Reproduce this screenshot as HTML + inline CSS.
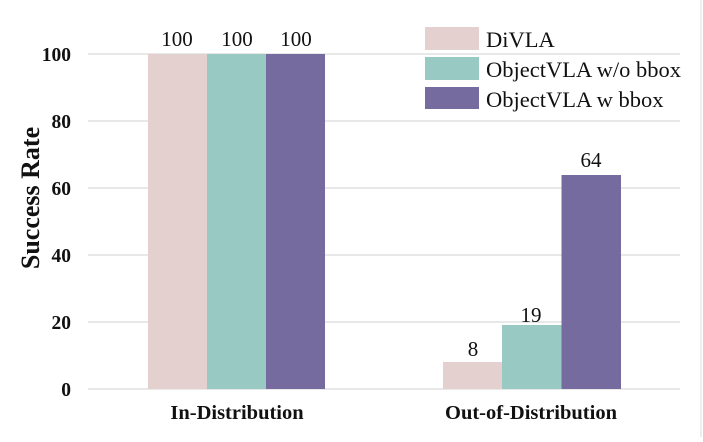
<!DOCTYPE html>
<html><head><meta charset="utf-8"><style>
body{margin:0;background:#fff;width:703px;height:437px;overflow:hidden}
</style></head><body>
<svg width="703" height="437" xmlns="http://www.w3.org/2000/svg" font-family="Liberation Serif, serif">
<rect width="703" height="437" fill="#fff"/>
<line x1="701" y1="0" x2="701" y2="437" stroke="#ddd" stroke-width="1"/>
<g stroke="#d9d9d9" stroke-width="1.3">
<line x1="88" x2="680" y1="54" y2="54"/>
<line x1="88" x2="680" y1="121" y2="121"/>
<line x1="88" x2="680" y1="188" y2="188"/>
<line x1="88" x2="680" y1="255" y2="255"/>
<line x1="88" x2="680" y1="322" y2="322"/>
<line x1="88" x2="680" y1="389" y2="389"/>
</g>
<g font-weight="bold" font-size="19.5" text-anchor="end" fill="#111">
<text x="71" y="61">100</text>
<text x="71" y="128">80</text>
<text x="71" y="195">60</text>
<text x="71" y="262">40</text>
<text x="71" y="329">20</text>
<text x="71" y="396">0</text>
</g>
<text transform="translate(39,198) rotate(-90)" text-anchor="middle" font-weight="bold" font-size="26" fill="#111">Success Rate</text>
<rect x="148" y="54" width="59" height="335" fill="#e5d0d0"/>
<rect x="207" y="54" width="59" height="335" fill="#98c9c3"/>
<rect x="266" y="54" width="59" height="335" fill="#756b9e"/>
<rect x="443" y="362" width="59" height="27" fill="#e5d0d0"/>
<rect x="502" y="325" width="59.5" height="64" fill="#98c9c3"/>
<rect x="561.5" y="175" width="59.5" height="214" fill="#756b9e"/>
<g font-size="21" text-anchor="middle" fill="#111">
<text x="177" y="46">100</text>
<text x="237" y="46">100</text>
<text x="296" y="46">100</text>
<text x="473" y="356">8</text>
<text x="531" y="322">19</text>
<text x="591" y="167">64</text>
</g>
<g font-weight="bold" font-size="20.5" text-anchor="middle" fill="#111">
<text x="237" y="419">In-Distribution</text>
<text x="531" y="419">Out-of-Distribution</text>
</g>
<rect x="425" y="27" width="54" height="23" fill="#e5d0d0"/>
<rect x="425" y="57" width="54" height="23" fill="#98c9c3"/>
<rect x="425" y="87" width="54" height="22" fill="#756b9e"/>
<g font-size="22.5" fill="#111">
<text x="486" y="47">DiVLA</text>
<text x="486" y="77">ObjectVLA w/o bbox</text>
<text x="486" y="107">ObjectVLA w bbox</text>
</g>
</svg>
</body></html>
